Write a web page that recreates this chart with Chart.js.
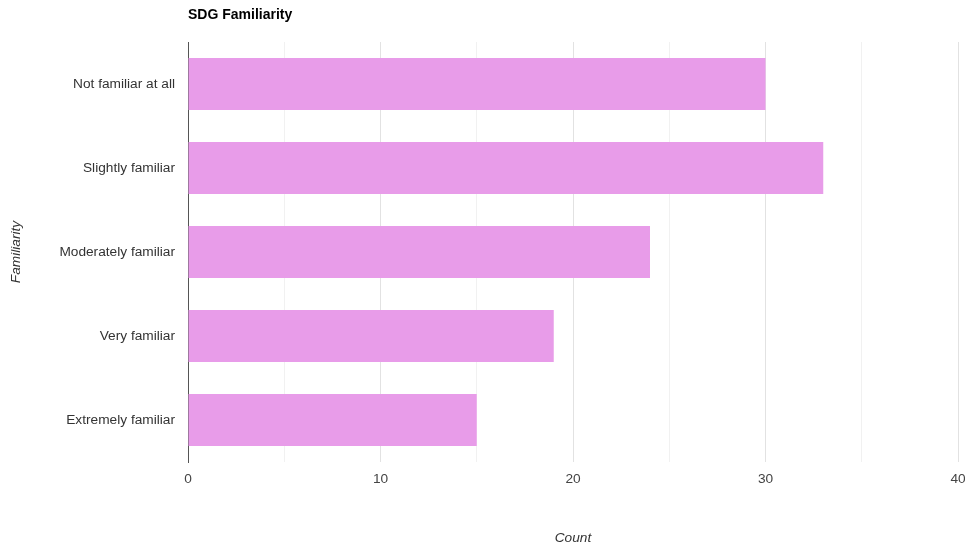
<!DOCTYPE html>
<html>
<head>
<meta charset="utf-8">
<script src="https://cdn.jsdelivr.net/npm/chart.js@4/dist/chart.umd.min.js"></script>
<style>
  html, body { margin: 0; padding: 0; background: #fff; }
  #wrap { width: 965px; height: 548px; position: relative; }
</style>
</head>
<body>
<div id="wrap"><canvas id="c" width="965" height="548"></canvas></div>
<script>
// Survey responses on SDG familiarity
const categories = ["Not familiar at all", "Slightly familiar", "Moderately familiar", "Very familiar", "Extremely familiar"];
const counts = [30, 33, 24, 19, 15];
const countTicks = [0, 10, 20, 30, 40];

const FONT = "'Liberation Sans', Arial, sans-serif";

// Chart heading drawn flush with the left edge of the plot area
const headingPlugin = {
  id: 'heading',
  afterDraw(chart) {
    const ctx = chart.ctx;
    ctx.save();
    ctx.font = "bold 14px " + FONT;
    ctx.fillStyle = '#000';
    ctx.textBaseline = 'middle';
    ctx.textAlign = 'left';
    ctx.fillText('SDG Familiarity', chart.chartArea.left, 15);
    ctx.restore();
  }
};

new Chart(document.getElementById('c'), {
  type: 'bar',
  data: {
    labels: categories,
    datasets: [{
      label: 'Count',
      data: counts,
      backgroundColor: '#e89ce9',
      borderWidth: 0,
      barPercentage: 0.62,
      categoryPercentage: 1.0
    }]
  },
  options: {
    indexAxis: 'y',
    responsive: false,
    animation: false,
    layout: { padding: { top: 42, right: 7, left: 0, bottom: 0 } },
    plugins: {
      legend: { display: false },
      tooltip: { enabled: false }
    },
    scales: {
      x: {
        min: countTicks[0],
        max: countTicks[countTicks.length - 1],
        afterFit(scale) {
          scale.height = 86;
          scale.paddingLeft = 0;
          scale.paddingRight = 0;
        },
        ticks: {
          stepSize: 5,
          padding: 9,
          maxRotation: 0,
          autoSkip: false,
          color: '#444',
          font: { family: FONT, size: 13.7 },
          callback: (v) => countTicks.includes(v) ? String(v) : ''
        },
        grid: {
          drawTicks: false,
          color: (c) => (c.tick && c.tick.value % 10 === 0) ? '#e2e2e2' : '#f1f1f1',
          lineWidth: 1
        },
        border: { display: false },
        title: {
          display: true,
          text: 'Count',
          color: '#333',
          font: { family: FONT, size: 13.7, style: 'italic' },
          padding: { top: 0, bottom: 2 }
        }
      },
      y: {
        afterFit(scale) { scale.width = 188; },
        ticks: {
          padding: 13,
          color: '#333',
          font: { family: FONT, size: 13.7 }
        },
        grid: { display: false, drawTicks: false },
        border: { display: true, color: '#555', width: 1 },
        title: {
          display: true,
          text: 'Familiarity',
          color: '#333',
          font: { family: FONT, size: 13.7, style: 'italic' },
          padding: { top: 8, bottom: 8 }
        }
      }
    }
  },
  plugins: [headingPlugin]
});
</script>
</body>
</html>
